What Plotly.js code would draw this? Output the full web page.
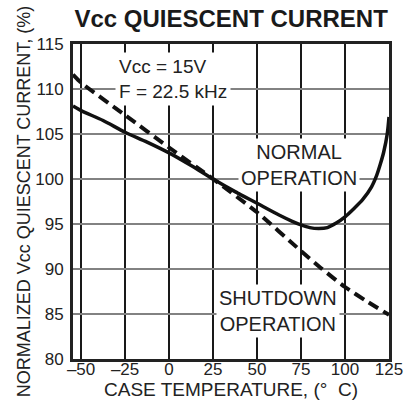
<!DOCTYPE html>
<html>
<head>
<meta charset="utf-8">
<script src="https://cdn.plot.ly/plotly-3.0.1.min.js"></script>
<style>html,body{margin:0;padding:0;background:#fff;}#chart{width:407px;height:409px;}</style>
</head>
<body>
<div id="chart"></div>
<script>
// Data
const normalTemp = [-54.6, -50, -37.5, -25, -12.5, 0, 12.5, 25, 37.5, 50, 62.5, 70, 75, 80, 85, 90, 95, 100, 105, 110, 115, 118, 120, 122, 124, 125];
const normalVal  = [108.1, 107.6, 106.5, 105.2, 104.1, 102.9, 101.5, 100, 98.6, 97.3, 96.0, 95.3, 94.9, 94.6, 94.5, 94.6, 95.1, 95.8, 96.7, 97.7, 99.1, 100.4, 101.6, 103.0, 105.0, 106.9];
const shutdownTemp = [-54.6, -50, -25, 0, 25, 50, 75, 87, 100, 112.5, 125];
const shutdownVal  = [111.6, 110.7, 107.1, 103.5, 100, 96.3, 92.0, 90.0, 88.0, 86.4, 84.9];
const xTicks = [-50, -25, 0, 25, 50, 75, 100, 125];
const xTickText = ['\u201350', '\u201325', '0', '25', '50', '75', '100', '125'];
const yTicks = [80, 85, 90, 95, 100, 105, 110, 115];
const xRange = [-54.6, 125];
const yRange = [80, 115];

const FONT = 'Liberation Sans, Arial, Helvetica, sans-serif';

const traces = [
  { x: normalTemp, y: normalVal, mode: 'lines', type: 'scatter',
    line: { color: '#111', width: 3.5, shape: 'spline', smoothing: 0.8 }, hoverinfo: 'skip' },
  { x: shutdownTemp, y: shutdownVal, mode: 'lines', type: 'scatter',
    line: { color: '#111', width: 4, dash: '11px,6px', shape: 'spline', smoothing: 0.6 }, hoverinfo: 'skip' }
];

const layout = {
  width: 407, height: 409,
  margin: { l: 73, r: 18, t: 44, b: 50 },
  paper_bgcolor: 'white', plot_bgcolor: 'white',
  showlegend: false,
  font: { family: FONT, color: '#222' },
  title: { text: '<b>Vcc QUIESCENT CURRENT</b>', font: { family: FONT, size: 24, color: '#1a1a1a' },
           x: 0.568, xref: 'container', xanchor: 'center', y: 1 - 19/409, yref: 'container', yanchor: 'middle' },
  xaxis: {
    range: xRange, tickmode: 'array', tickvals: xTicks, ticktext: xTickText, ticks: '',
    showgrid: true, gridcolor: 'rgb(25,25,25)', gridwidth: 2,
    showline: true, linecolor: '#222', linewidth: 3, mirror: true, zeroline: false,
    tickfont: { family: FONT, size: 17, color: '#222' }, ticklabelstandoff: -7,
    title: { text: 'CASE TEMPERATURE, (\u00b0  C)', font: { family: FONT, size: 19, color: '#222' }, standoff: 0 },
    automargin: false
  },
  yaxis: {
    range: yRange, tickmode: 'array', tickvals: yTicks, ticks: '',
    showgrid: true, gridcolor: 'rgb(130,130,130)', gridwidth: 2,
    showline: true, linecolor: '#222', linewidth: 3, mirror: true, zeroline: false,
    tickfont: { family: FONT, size: 17, color: '#222' }, ticklabelstandoff: 3,
    title: { text: 'NORMALIZED Vcc QUIESCENT CURRENT, (%)', font: { family: FONT, size: 18, color: '#222' }, standoff: 0 },
    automargin: false
  },
  annotations: [
    { x: -30.6, y: 111.1, xref: 'x', yref: 'y', xanchor: 'left', yanchor: 'middle', align: 'left',
      text: 'Vcc = 15V<br>F = 22.5 kHz', showarrow: false, bgcolor: 'white', borderpad: 3,
      font: { family: FONT, size: 19, color: '#222' } },
    { x: 73.7, y: 101.6, xref: 'x', yref: 'y', xanchor: 'center', yanchor: 'middle', align: 'center',
      text: 'NORMAL<br>OPERATION', showarrow: false, bgcolor: 'white', borderpad: 2,
      font: { family: FONT, size: 20, color: '#222' } },
    { x: 61.7, y: 85.3, xref: 'x', yref: 'y', xanchor: 'center', yanchor: 'middle', align: 'center',
      text: 'SHUTDOWN<br>OPERATION', showarrow: false, bgcolor: 'white', borderpad: 2,
      font: { family: FONT, size: 20, color: '#222' } }
  ]
};

Plotly.newPlot('chart', traces, layout, { displayModeBar: false });
</script>
</body>
</html>
